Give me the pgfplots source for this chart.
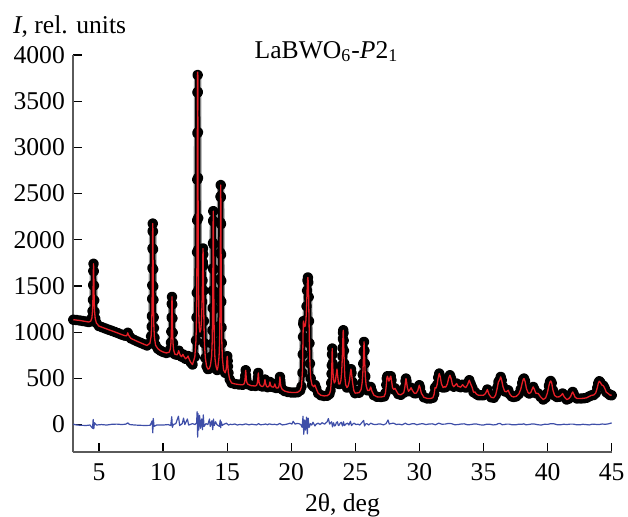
\documentclass[border=0pt]{standalone}
\usepackage{fontspec}
\setmainfont{Liberation Serif}
\usepackage{pgfplots}
\pgfplotsset{compat=1.18}
\usepackage{pgfplotstable}

\definecolor{obsgray}{RGB}{150,150,150}
\definecolor{calcred}{RGB}{230,30,38}
\definecolor{diffblue}{RGB}{62,78,168}
\definecolor{axisgray}{RGB}{90,90,90}

% observed / calculated profile
\pgfplotstableread{
x y
3.00 1135
3.25 1131
3.50 1127
3.75 1121
4.00 1115
4.20 1110
4.36 1119
4.45 1155
4.50 1228
4.53 1350
4.55 1510
4.565 1663
4.58 1740
4.595 1660
4.61 1505
4.63 1345
4.66 1222
4.71 1148
4.80 1100
5.00 1066
5.25 1053
5.50 1040
5.75 1027
6.00 1015
6.25 1002
6.50 989
6.75 975
7.00 963
7.15 960
7.20 972
7.25 993
7.30 970
7.40 950
7.50 932
7.75 916
8.00 900
8.25 885
8.50 870
8.75 856
8.98 880
9.07 955
9.11 1060
9.13 1174
9.15 1361
9.16 1508
9.17 1694
9.18 1908
9.19 2095
9.20 2175
9.21 2090
9.22 1895
9.23 1680
9.24 1495
9.25 1350
9.27 1160
9.29 1045
9.33 940
9.42 858
9.60 820
9.80 800
10.00 786
10.25 775
10.48 783
10.57 818
10.62 888
10.65 1006
10.67 1160
10.685 1308
10.70 1382
10.715 1300
10.73 1150
10.75 995
10.78 880
10.83 805
10.92 762
11.10 755
11.18 780
11.22 800
11.26 780
11.35 748
11.45 735
11.55 760
11.62 740
11.75 712
11.88 725
11.95 742
12.02 715
12.15 675
12.30 650
12.48 734
12.57 910
12.61 1159
12.63 1426
12.65 1866
12.66 2211
12.67 2651
12.68 3154
12.69 3594
12.70 3783
12.71 3600
12.72 3165
12.73 2670
12.74 2235
12.75 1895
12.77 1460
12.79 1200
12.83 1050
12.88 1000
12.95 1030
13.00 1130
13.05 1330
13.08 1560
13.10 1760
13.11 1850
13.12 1906
13.13 1840
13.14 1720
13.16 1450
13.19 1120
13.23 880
13.30 720
13.40 630
13.50 600
13.60 605
13.70 642
13.79 738
13.83 874
13.85 1020
13.87 1261
13.88 1450
13.89 1690
13.90 1966
13.91 2207
13.92 2310
13.93 2200
13.94 1950
13.95 1680
13.96 1440
13.97 1250
13.99 1000
14.01 860
14.05 720
14.10 660
14.15 620
14.22 590
14.28 621
14.37 735
14.41 895
14.43 1068
14.45 1352
14.46 1576
14.47 1860
14.48 2186
14.49 2470
14.50 2592
14.51 2460
14.52 2170
14.53 1840
14.54 1555
14.55 1330
14.57 1050
14.59 880
14.63 720
14.72 590
14.85 560
14.93 600
14.96 640
14.98 690
15.01 740
15.04 690
15.06 630
15.10 560
15.20 490
15.35 450
15.60 440
15.90 434
16.20 430
16.32 440
16.37 460
16.40 490
16.42 530
16.45 588
16.48 530
16.50 490
16.53 458
16.62 436
16.90 420
17.20 418
17.30 425
17.35 445
17.38 472
17.40 508
17.43 559
17.46 508
17.48 472
17.51 445
17.60 420
17.75 412
17.85 420
17.90 445
17.95 487
18.00 445
18.07 415
18.15 405
18.26 415
18.30 432
18.34 461
18.38 432
18.45 410
18.62 405
18.68 420
18.72 440
18.76 420
18.84 395
19.00 398
19.05 420
19.08 450
19.10 480
19.12 516
19.14 480
19.16 450
19.20 410
19.30 380
19.50 362
19.75 352
20.00 348
20.25 346
20.50 350
20.70 370
20.80 410
20.87 560
20.90 760
20.92 950
20.94 1090
20.96 1120
21.00 1075
21.05 1060
21.10 1070
21.15 1130
21.20 1280
21.24 1450
21.27 1560
21.30 1592
21.33 1540
21.36 1380
21.39 1120
21.42 880
21.46 660
21.52 500
21.62 430
21.75 410
21.85 428
21.95 390
22.10 340
22.30 318
22.55 310
22.80 312
22.98 330
23.07 370
23.12 450
23.15 550
23.17 640
23.185 760
23.20 823
23.215 760
23.23 660
23.26 560
23.30 490
23.36 450
23.44 470
23.50 530
23.57 600
23.63 520
23.70 440
23.80 440
23.88 480
23.93 560
23.96 640
23.99 740
24.01 830
24.03 930
24.045 995
24.06 1021
24.075 990
24.09 910
24.11 800
24.14 660
24.18 520
24.25 430
24.35 400
24.45 420
24.55 480
24.62 570
24.66 600
24.70 560
24.78 460
24.88 370
24.98 340
25.30 345
25.45 380
25.53 450
25.58 540
25.62 660
25.65 790
25.68 895
25.71 800
25.74 660
25.78 520
25.85 420
25.95 370
26.10 370
26.20 407
26.30 360
26.45 318
26.70 300
27.00 298
27.25 305
27.35 340
27.42 430
27.46 500
27.50 523
27.55 505
27.62 470
27.68 490
27.73 520
27.77 523
27.82 480
27.90 400
28.00 380
28.10 392
28.20 365
28.35 330
28.55 322
28.78 345
28.86 400
28.92 470
28.95 498
28.99 470
29.06 400
29.15 360
29.25 375
29.35 398
29.45 370
29.60 340
29.75 340
29.88 370
29.94 405
29.99 426
30.05 400
30.15 340
30.35 295
30.60 283
30.85 282
31.05 290
31.15 330
31.22 400
31.30 395
31.38 430
31.47 510
31.55 552
31.62 520
31.72 440
31.85 400
31.95 410
32.05 405
32.18 440
32.28 500
32.38 534
32.47 500
32.58 430
32.68 410
32.78 425
32.90 444
33.00 415
33.12 410
33.22 405
33.37 432
33.50 410
33.62 400
33.75 430
33.89 480
34.00 440
34.12 400
34.22 350
34.33 353
34.45 330
34.60 318
34.80 317
35.00 318
35.15 335
35.30 379
35.42 330
35.60 295
35.80 290
35.95 320
36.08 400
36.16 460
36.25 480
36.34 516
36.42 480
36.52 410
36.65 360
36.78 355
36.93 371
37.05 330
37.20 305
37.35 299
37.55 305
37.75 330
37.90 380
38.02 450
38.10 490
38.16 498
38.24 470
38.35 390
38.48 345
38.57 336
38.70 350
38.80 385
38.88 407
38.97 380
39.08 340
39.27 336
39.45 300
39.66 271
39.85 290
39.98 340
40.10 420
40.18 460
40.24 472
40.32 450
40.42 370
40.55 315
40.71 299
40.90 300
41.05 315
41.17 336
41.30 300
41.49 271
41.65 280
41.80 305
41.90 340
41.96 353
42.04 330
42.15 295
42.30 282
42.60 282
42.85 285
43.05 290
43.25 305
43.44 317
43.60 320
43.75 340
43.88 400
43.96 450
44.03 469
44.12 455
44.22 430
44.35 420
44.45 395
44.58 350
44.73 336
44.85 320
45.00 317
}\obsdata

% difference curve
\pgfplotstableread{
x y
3.00 5
3.10 0
3.30 -5
3.60 -8
4.00 -10
4.30 -5
4.50 -40
4.55 55
4.60 -45
4.65 20
4.80 -5
5.20 0
5.60 -5
6.00 3
6.40 5
6.80 0
7.10 5
7.25 18
7.40 0
7.80 -5
8.20 -8
8.60 -10
9.00 -8
9.15 40
9.20 -90
9.24 65
9.30 -20
9.50 -5
10.00 -5
10.40 0
10.60 -10
10.68 85
10.73 -30
10.80 0
11.00 10
11.20 90
11.30 -10
11.50 10
11.60 70
11.70 0
11.90 60
12.00 -5
12.30 10
12.50 0
12.62 20
12.66 140
12.70 -135
12.73 120
12.78 -60
12.85 100
12.92 -40
13.00 60
13.08 -55
13.14 105
13.20 -20
13.35 10
13.50 0
13.62 60
13.68 -20
13.80 40
13.88 -55
13.93 60
14.00 -10
14.10 30
14.20 0
14.40 -20
14.46 50
14.50 -35
14.54 30
14.62 -10
14.70 0
14.95 15
15.10 -5
15.25 3
15.40 0
15.60 6
15.80 -5
16.00 2
16.20 -3
16.45 8
16.70 -3
16.90 4
17.10 0
17.30 -4
17.45 10
17.60 -2
17.80 0
18.00 6
18.15 -2
18.30 8
18.50 0
18.70 3
18.90 -3
19.10 12
19.30 -4
19.50 0
19.70 6
19.90 15
20.05 5
20.15 35
20.30 5
20.45 12
20.60 10
20.75 0
20.85 -30
20.92 90
20.98 -105
21.05 50
21.12 -60
21.20 80
21.26 -100
21.32 70
21.40 -30
21.50 10
21.60 -5
21.70 25
21.85 -15
21.95 5
22.10 15
22.25 0
22.40 20
22.60 5
22.80 30
22.90 65
23.00 5
23.08 20
23.15 30
23.22 -25
23.30 20
23.38 -15
23.45 -10
23.52 20
23.60 30
23.68 -10
23.75 -5
23.82 15
23.90 25
24.00 -15
24.08 30
24.14 -10
24.20 -5
24.30 10
24.40 15
24.50 -5
24.62 35
24.70 -10
24.80 5
24.90 15
25.05 0
25.20 5
25.35 -5
25.50 20
25.65 45
25.72 -15
25.80 5
25.90 10
26.05 -5
26.20 15
26.40 3
26.60 0
26.80 6
27.00 5
27.20 -4
27.40 10
27.55 50
27.65 5
27.80 12
28.00 15
28.20 0
28.40 5
28.65 -3
28.90 15
29.05 3
29.20 0
29.40 8
29.60 10
29.80 -2
30.00 5
30.25 10
30.50 0
30.75 6
31.00 8
31.25 -2
31.50 15
31.75 4
32.00 5
32.25 12
32.50 10
32.75 -2
33.00 0
33.25 6
33.50 8
33.75 -3
34.00 0
34.25 6
34.50 5
34.75 -3
35.00 -5
35.25 4
35.50 3
35.75 -4
36.00 0
36.15 10
36.30 12
36.45 -2
36.60 0
36.80 5
37.00 5
37.25 -3
37.50 -3
37.75 4
38.00 3
38.15 8
38.30 -2
38.50 0
38.75 6
39.00 5
39.25 -2
39.50 -5
39.75 3
40.00 2
40.25 10
40.50 8
40.75 -2
41.00 -3
41.25 4
41.50 0
41.75 5
42.00 5
42.25 -2
42.50 -3
42.75 3
43.00 0
43.25 -4
43.50 5
43.75 2
44.00 0
44.25 6
44.50 3
44.75 8
45.00 18
}\diffdata

\begin{document}
\begin{tikzpicture}[font=\fontsize{12.8}{15.4}\selectfont\rmfamily]
\begin{axis}[
    set layers,
    scale only axis,
    width=269.2pt, height=198.65pt,
    xmin=3, xmax=45,
    ymin=-300, ymax=4000,
    axis lines=left,
    axis line style={-, draw=axisgray, line width=0.9pt},
    tick align=inside,
    major tick length=4.5pt,
    tick style={black, line width=0.6pt},
    xtick={5,10,15,20,25,30,35,40,45},
    xticklabels={5,10,15,20,25,30,35,40,45},
    ytick={0,500,1000,1500,2000,2500,3000,3500,4000},
    yticklabels={0,500,1000,1500,2000,2500,3000,3500,4000},
    ticklabel style={font=\fontsize{12.8}{15.4}\selectfont\rmfamily},
    xticklabel style={yshift=-2.3pt},
    yticklabel style={xshift=-0.7pt},
    xlabel={2θ, deg},
    xlabel style={at={(axis description cs:0.5,0)}, anchor=base, yshift=-29.7pt},
    clip=false,
]
    \addplot[obsgray, line width=3.6pt, line join=round, line cap=round]
        table[x=x, y=y] {\obsdata};
    \addplot[black, line width=2.4pt, line join=round, line cap=round,
        mark=*, mark size=1.45pt,
        mark options={draw=black, fill=black}] table[x=x, y=y] {\obsdata};
    \addplot[calcred, line width=0.65pt, line join=round, on layer=axis foreground]
        table[x=x, y=y] {\obsdata};
    \addplot[calcred, line width=0.65pt, on layer=axis foreground]
        coordinates {(12.69,3400) (12.70,3820) (12.71,3400)};
    \addplot[diffblue, line width=0.6pt, line join=round] table[x=x, y=y] {\diffdata};

    \node[anchor=base west, inner sep=0, xshift=-30.3pt, yshift=10.85pt]
        at (rel axis cs:0,1) {\textit{I}, rel. units};
    \node[anchor=base, inner sep=0, yshift=-1.65pt]
        at (axis cs:22.75,4000) {LaBWO\textsubscript{6}-\textit{P}2\textsubscript{1}};
\end{axis}
\pgfresetboundingbox
\useasboundingbox (-36.65pt,-32.35pt) rectangle (277.35pt,226.15pt);
\end{tikzpicture}
\end{document}
